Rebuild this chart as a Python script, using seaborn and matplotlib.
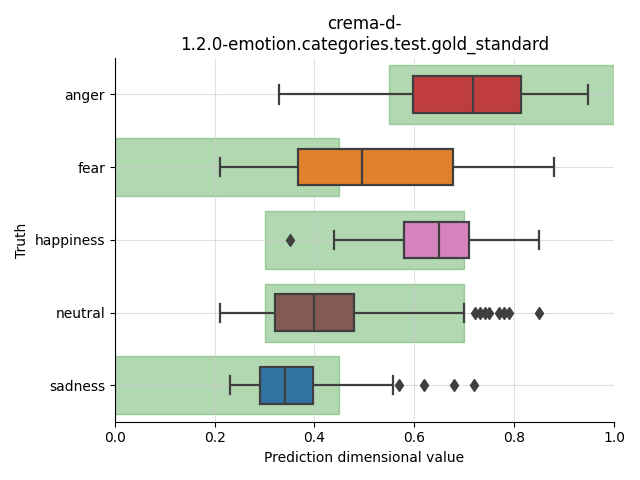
import numpy as np
import pandas as pd
import matplotlib
matplotlib.use("Agg")
import matplotlib.pyplot as plt
import seaborn as sns

categories = ["anger", "fear", "happiness", "neutral", "sadness"]
colors = ["tab:red", "tab:orange", "tab:pink", "tab:brown", "tab:blue"]

# box statistics
q1 = [0.597, 0.368, 0.579, 0.320, 0.290]
median = [0.717, 0.495, 0.649, 0.399, 0.341]
q3 = [0.814, 0.677, 0.709, 0.479, 0.398]
whisker_lo = [0.329, 0.210, 0.439, 0.210, 0.230]
whisker_hi = [0.948, 0.879, 0.849, 0.699, 0.557]
outliers_lo = [[], [], [0.351], [], []]
outliers_hi = [[], [], [], [0.722, 0.731, 0.741, 0.750, 0.770, 0.779, 0.790, 0.850],
               [0.570, 0.620, 0.680, 0.720]]

# expected value ranges (green bands)
band_lo = [0.55, 0.0, 0.30, 0.30, 0.0]
band_hi = [1.00, 0.45, 0.70, 0.70, 0.45]

rows = []
for i, cat in enumerate(categories):
    lows = sorted(outliers_lo[i] + [whisker_lo[i]])
    highs = sorted([whisker_hi[i]] + outliers_hi[i])
    k = max(len(lows), len(highs))
    vals = (lows + [q1[i]] * (k - len(lows) + 1) + [median[i]] * k
            + [q3[i]] * (k + k - len(highs)) + highs)
    for v in vals:
        rows.append({"Truth": cat, "value": v})
df = pd.DataFrame(rows)

fig, ax = plt.subplots(figsize=(6.4, 4.8), dpi=100)

ax.barh(y=np.arange(len(categories)), width=np.array(band_hi) - np.array(band_lo),
        left=band_lo, height=0.8, color="green", alpha=0.3, edgecolor="green",
        linewidth=1, zorder=1)

palette = dict(zip(categories, colors))
sns.boxplot(data=df, x="value", y="Truth", hue="Truth", order=categories,
            hue_order=categories, palette=palette, width=0.5, legend=False,
            linewidth=1.6, linecolor="#3f3f3f",
            flierprops=dict(marker="d", markerfacecolor="#3f3f3f",
                            markeredgecolor="#3f3f3f", markersize=6),
            ax=ax)
for ln in ax.lines:
    ln.set_zorder(3)

ax.set_xlim(0, 1)
ax.set_ylim(len(categories) - 0.5, -0.5)
ax.set_xticks([0.0, 0.2, 0.4, 0.6, 0.8, 1.0])
ax.grid(True, color="#cccccc", alpha=0.6, linewidth=0.8, zorder=2.5)
for gl in ax.get_xgridlines() + ax.get_ygridlines():
    gl.set_zorder(2.5)
ax.set_xlabel("Prediction dimensional value")
ax.set_ylabel("Truth")
ax.set_title("crema-d-\n1.2.0-emotion.categories.test.gold_standard")
sns.despine(ax=ax)
fig.tight_layout()
fig.savefig("out.png", dpi=100)
